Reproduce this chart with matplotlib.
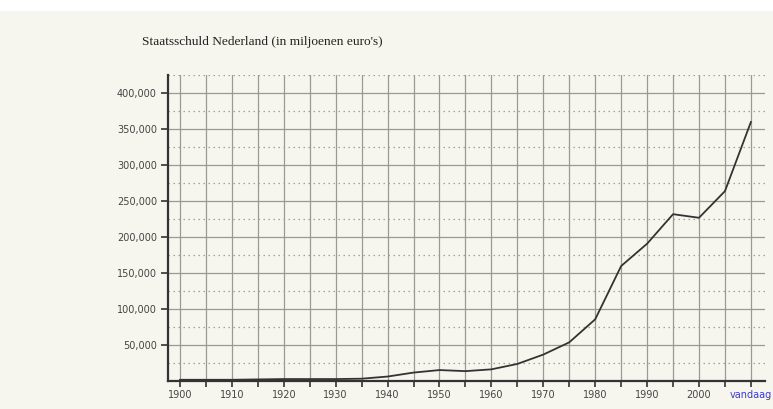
import matplotlib
matplotlib.use("Agg")
import matplotlib.pyplot as plt
from matplotlib.ticker import MultipleLocator, FuncFormatter
from matplotlib.patches import Rectangle

years = [1900, 1905, 1910, 1915, 1920, 1925, 1930, 1935, 1940, 1945, 1950, 1955,
         1960, 1965, 1970, 1975, 1980, 1985, 1990, 1995, 2000, 2005, 2010]
debt = [1000, 1000, 1000, 1500, 2000, 2000, 2000, 2500, 5500, 11000, 14500, 13000,
        15500, 23000, 36000, 53000, 85000, 159000, 190000, 231000, 226000, 263000, 359000]
xtick_years = [1900, 1910, 1920, 1930, 1940, 1950, 1960, 1970, 1980, 1990, 2000, 2010]
xtick_labels = ["1900", "1910", "1920", "1930", "1940", "1950", "1960", "1970",
                "1980", "1990", "2000", "vandaag"]
title = "Staatsschuld Nederland (in miljoenen euro's)"

W, H = 773, 410
fig = plt.figure(figsize=(W / 100, H / 100), dpi=100)
fig.patch.set_facecolor("white")
bg = "#f6f6ef"
fig.patches.append(Rectangle((0, 0), 1, (H - 12) / H, transform=fig.transFigure,
                             facecolor=bg, edgecolor="none", zorder=-10))

left_px, right_px, bottom_px, top_px = 168, 765, 381.5, 75.5
ax = fig.add_axes([left_px / W, (H - bottom_px) / H, (right_px - left_px) / W,
                   (bottom_px - top_px) / H])
ax.set_facecolor(bg)

px_per_year = 5.19
ax.set_xlim(1900 - (180 - left_px) / px_per_year, 1900 + (right_px - 180) / px_per_year)
ax.set_ylim(0, 425000)

ax.plot(years, debt, color="#333333", lw=1.3, zorder=3)

# grid
ax.xaxis.set_major_locator(MultipleLocator(5))
ax.yaxis.set_major_locator(MultipleLocator(50000))
ax.yaxis.set_minor_locator(MultipleLocator(25000))
ax.grid(which="major", color="#9a9a92", lw=0.9, zorder=1)
ax.grid(which="minor", axis="y", color="#a0a098", lw=0.9, ls=(0, (1.2, 2.8)), zorder=1)

ax.set_yticks(range(50000, 400001, 50000))
ax.yaxis.set_major_formatter(FuncFormatter(lambda v, p: f"{int(v):,}"))
ax.set_xticks(range(1900, 2011, 5))
lab = {y: l for y, l in zip(xtick_years, xtick_labels)}
ax.set_xticklabels([lab.get(y, "") for y in range(1900, 2011, 5)])

ax.tick_params(axis="y", which="major", direction="out", length=5, width=1.2,
               color="#333333", labelsize=7, labelcolor="#444444", pad=3)
ax.tick_params(axis="y", which="minor", length=0)
ax.tick_params(axis="x", direction="out", length=4, width=1.2, color="#333333",
               labelsize=7, labelcolor="#444444", pad=2)
for t in ax.get_xticklabels():
    if t.get_text() == "vandaag":
        t.set_color("#3a3ad0")

for s in ["top", "right"]:
    ax.spines[s].set_visible(False)
for s in ["left", "bottom"]:
    ax.spines[s].set_color("#333333")
    ax.spines[s].set_linewidth(1.6)

fig.text(262 / W, 1 - 42 / H, title, family="Liberation Serif", fontsize=9.6,
         color="#222222", ha="center", va="center")

fig.savefig("out.png", dpi=100, facecolor=fig.get_facecolor())
